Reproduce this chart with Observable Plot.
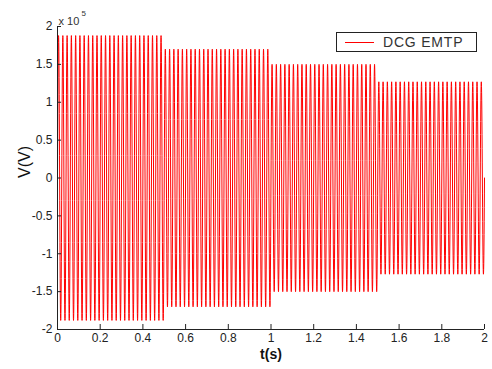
<!DOCTYPE html>
<html><head><meta charset="utf-8">
<script src="https://cdn.jsdelivr.net/npm/d3@7"></script>
<script src="https://cdn.jsdelivr.net/npm/@observablehq/plot@0.6"></script>
<style>
body{margin:0;background:#fff;font-family:"Liberation Sans",Arial,sans-serif;}
#wrap{position:relative;width:492px;height:369px;}
#legend{position:absolute;left:336px;top:32px;width:141px;height:20px;border:1px solid #222;background:#fff;box-sizing:border-box;}
#legend .ln{position:absolute;left:8px;top:9px;width:29px;height:0;border-top:1px solid #ff0000;}
#legend .tx{position:absolute;left:46px;top:2px;font-size:14px;letter-spacing:0.8px;color:#333;line-height:15px;}
</style></head><body><div id="wrap"></div>
<script>
const segStart = [0, 0.5, 1.0, 1.5];
const segEnd = [0.5, 1.0, 1.5, 2.0];
const amplitude = [1.88e5, 1.70e5, 1.50e5, 1.27e5];
const freqHz = 50;
const sampleStep = 0.0005;
const xTicks = [0, 0.2, 0.4, 0.6, 0.8, 1, 1.2, 1.4, 1.6, 1.8, 2];
const xTickLabels = ["0", "0.2", "0.4", "0.6", "0.8", "1", "1.2", "1.4", "1.6", "1.8", "2"];
const yTicks = [-2e5, -1.5e5, -1e5, -0.5e5, 0, 0.5e5, 1e5, 1.5e5, 2e5];
const yTickLabels = ["-2", "-1.5", "-1", "-0.5", "0", "0.5", "1", "1.5", "2"];
const seriesName = "DCG EMTP";
const xLabel = "t(s)";
const yLabel = "V(V)";

const wave = [];
const n = Math.round(2 / sampleStep);
for (let i = 0; i <= n; i++) {
  const t = i * sampleStep;
  let k = segStart.findIndex((s, j) => t >= s && t < segEnd[j]);
  if (k < 0) k = segStart.length - 1;
  wave.push({t, v: amplitude[k] * Math.sin(2 * Math.PI * freqHz * t)});
}

const chart = Plot.plot({
  width: 492, height: 369,
  marginLeft: 57, marginRight: 8, marginTop: 26, marginBottom: 40,
  x: {domain: [0, 2]},
  y: {domain: [-2e5, 2e5]},
  style: {fontFamily: "'Liberation Sans', Arial, sans-serif", fontSize: "12px", color: "#222", background: "transparent"},
  marks: [
    Plot.line(wave, {x: "t", y: "v", stroke: "#ff0000", strokeWidth: 1}),
    Plot.ruleX([0], {stroke: "#222"}),
    Plot.ruleY([-2e5], {stroke: "#222"}),
    Plot.tickX(xTicks, {x: d => d, insetTop: 298, stroke: "#222"}),
    Plot.tickY(yTicks, {y: d => d, insetRight: 423, stroke: "#222"}),
    Plot.axisX({ticks: xTicks, tickSize: 0, tickPadding: 4, tickFormat: d => xTickLabels[xTicks.indexOf(d)], label: null}),
    Plot.axisY({ticks: yTicks, tickSize: 0, tickPadding: 5, tickFormat: d => yTickLabels[yTicks.indexOf(d)], label: null}),
    Plot.text([xLabel], {frameAnchor: "bottom", dy: 29, fontWeight: "bold", fontSize: 14, fill: "#111"}),
    Plot.text([yLabel], {frameAnchor: "left", dx: -33, rotate: -90, fontSize: 16, fill: "#111"}),
    Plot.text(["x 10"], {frameAnchor: "top-left", dx: 1, dy: -9, textAnchor: "start", fontSize: 11, fill: "#333"}),
    Plot.text(["5"], {frameAnchor: "top-left", dx: 24, dy: -16, textAnchor: "start", fontSize: 8, fill: "#333"})
  ]
});
const wrap = document.getElementById("wrap");
wrap.appendChild(chart);
const lg = document.createElement("div");
lg.id = "legend";
lg.innerHTML = '<div class="ln"></div><div class="tx"></div>';
lg.querySelector(".tx").textContent = seriesName;
wrap.appendChild(lg);
</script></body></html>
